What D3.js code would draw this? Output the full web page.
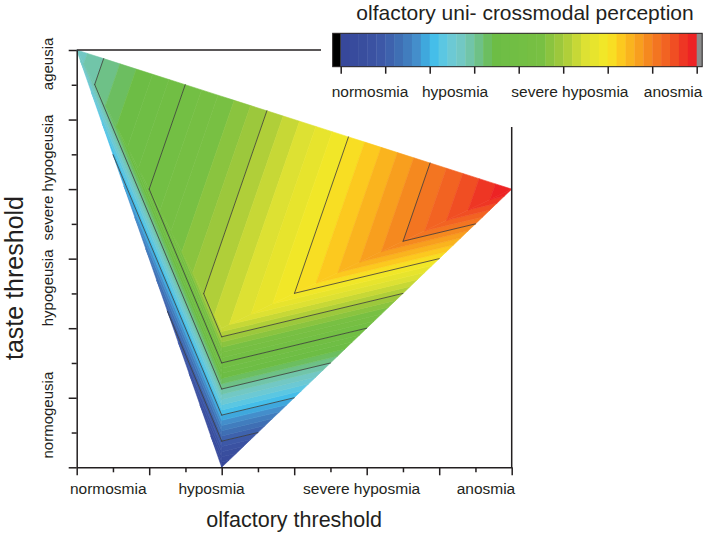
<!DOCTYPE html>
<html><head><meta charset="utf-8">
<script src="https://cdn.jsdelivr.net/npm/d3@7"></script>
<style>
body{margin:0;background:#fff}
svg text{font-family:"Liberation Sans",Arial,Helvetica,sans-serif;fill:#231f20}
</style>
</head><body>
<svg id="chart" width="709" height="535"></svg>
<script>
// ---------------- data ----------------
// measured nodes (olfactory threshold, taste threshold, perception score)
const nodeX = [0, 12, 4, 4];
const nodeY = [12, 8, 0, 4];
const nodeV = [2.67, 8, 0, 5.33];
const contourLevels = [1, 2, 3, 4, 5, 6, 7];
const xTickLabels = ["normosmia", "hyposmia", "severe hyposmia", "anosmia"];
const xTickLabelPos = [0.87, 3.72, 7.86, 11.29];
const yTickLabels = ["normogeusia", "hypogeusia", "severe hypogeusia", "ageusia"];
const yTickLabelPos = [1.5, 5.16, 8.33, 11.6];
const cbLabels = ["normosmia", "hyposmia", "severe hyposmia", "anosmia"];
const cbLabelPos = [0.66, 2.57, 5.15, 7.47];
const colorStops = [0, 0.6, 1, 1.4, 1.7, 1.95, 2.15, 2.4, 2.7, 3.0, 3.2, 3.45, 4.5, 5, 5.5, 6.0, 6.3, 6.65, 7, 7.4, 7.8, 8];
const colorValues = ["#36479a","#3a4f9f","#3e5ba9","#3f75b8","#448ecb","#3eaee1","#47c3ec","#69cadc","#72c8c4","#70c39c","#6cbf72","#6cbd45","#78c043","#a5ca3a","#dde133","#f6e925","#fcc91f","#f9a51e","#f47e20","#f15a22","#ed2a24","#ed1c24"];
const bandStep = 0.2;
const vMin = 0, vMax = 8;

// ---------------- setup ----------------
const svg = d3.select("#chart");
const x = d3.scaleLinear().domain([0, 12]).range([76.7, 511.7]);
const y = d3.scaleLinear().domain([0, 12]).range([467.3, 50]);
const color = d3.scaleLinear().domain(colorStops).range(colorValues).interpolate(d3.interpolateRgb);

const pts = nodeX.map((d, i) => [d, nodeY[i]]);
const delaunay = d3.Delaunay.from(pts);
const tris = [];
for (let i = 0; i < delaunay.triangles.length; i += 3) {
  tris.push([0,1,2].map(k => {
    const j = delaunay.triangles[i + k];
    return [nodeX[j], nodeY[j], nodeV[j]];
  }));
}

function clip(poly, level, above) {
  const out = [];
  const inside = p => above ? p[2] >= level : p[2] <= level;
  for (let i = 0; i < poly.length; i++) {
    const a = poly[i], b = poly[(i + 1) % poly.length];
    const ia = inside(a), ib = inside(b);
    if (ia) out.push(a);
    if (ia !== ib) {
      const t = (level - a[2]) / (b[2] - a[2]);
      out.push([a[0] + t * (b[0] - a[0]), a[1] + t * (b[1] - a[1]), level]);
    }
  }
  return out;
}

const line = d3.line().x(d => x(d[0])).y(d => y(d[1]));
const gHeat = svg.append("g");
const bands = d3.range(vMin, vMax, bandStep);
bands.forEach(lo => {
  const hi = lo + bandStep;
  const c = color(lo + bandStep / 2);
  tris.forEach(t => {
    let p = clip(t, lo - (lo === vMin ? 1e-6 : 0), true);
    if (p.length < 3) return;
    p = clip(p, hi + (hi >= vMax - 1e-9 ? 1e-6 : 0), false);
    if (p.length < 3) return;
    gHeat.append("path").attr("d", line(p) + "Z")
      .attr("fill", c).attr("stroke", c).attr("stroke-width", 0.6).attr("stroke-linejoin", "round");
  });
});

// contour lines
const gCont = svg.append("g");
contourLevels.forEach(k => {
  tris.forEach(t => {
    const seg = [];
    for (let i = 0; i < 3; i++) {
      const a = t[i], b = t[(i + 1) % 3];
      if ((a[2] - k) * (b[2] - k) < 0) {
        const s = (k - a[2]) / (b[2] - a[2]);
        seg.push([a[0] + s * (b[0] - a[0]), a[1] + s * (b[1] - a[1])]);
      }
    }
    if (seg.length === 2) {
      gCont.append("path").attr("d", line(seg)).attr("fill", "none")
        .attr("stroke", "#3a3a3a").attr("stroke-width", 0.8).attr("stroke-linecap", "round");
    }
  });
});

// ---------------- axes ----------------
const axStroke = "#231f20";
function styleAxis(g) {
  g.selectAll("path,line").attr("stroke", axStroke).attr("stroke-width", 1.5);
  g.selectAll("text").remove();
}
svg.append("g").attr("transform", `translate(0,${y(0)})`)
  .call(d3.axisBottom(x).tickValues(d3.range(0, 13, 2)).tickSize(8).tickSizeOuter(0).tickFormat(""))
  .call(styleAxis);
svg.append("g").attr("transform", `translate(0,${y(0)})`)
  .call(d3.axisBottom(x).tickValues(d3.range(1, 12, 2)).tickSize(5).tickSizeOuter(0).tickFormat(""))
  .call(g => g.select(".domain").remove()).call(styleAxis);
svg.append("g").attr("transform", `translate(${x(0)},0)`)
  .call(d3.axisLeft(y).tickValues(d3.range(0, 13, 2)).tickSize(8).tickSizeOuter(0).tickFormat(""))
  .call(styleAxis);
svg.append("g").attr("transform", `translate(${x(0)},0)`)
  .call(d3.axisLeft(y).tickValues(d3.range(1, 12, 2)).tickSize(5).tickSizeOuter(0).tickFormat(""))
  .call(g => g.select(".domain").remove()).call(styleAxis);

// frame (top and right, partly hidden behind legend)
svg.append("line").attr("x1", x(0)).attr("x2", 321).attr("y1", y(12)).attr("y2", y(12))
  .attr("stroke", axStroke).attr("stroke-width", 1.5);
svg.append("line").attr("x1", x(12)).attr("x2", x(12)).attr("y1", 127).attr("y2", y(0))
  .attr("stroke", axStroke).attr("stroke-width", 1.5);

// tick labels
svg.append("g").selectAll("text").data(xTickLabels).join("text")
  .attr("x", (d, i) => x(xTickLabelPos[i])).attr("y", 493.5)
  .attr("text-anchor", "middle").attr("font-size", 15.5).text(d => d);
svg.append("g").selectAll("text").data(yTickLabels).join("text")
  .attr("transform", (d, i) => `translate(53,${y(yTickLabelPos[i])}) rotate(-90)`)
  .attr("text-anchor", "middle").attr("font-size", 15).text(d => d);

// axis titles
svg.append("text").attr("x", (x(0) + x(12)) / 2).attr("y", 527)
  .attr("text-anchor", "middle").attr("font-size", 21.5).text("olfactory threshold");
svg.append("text").attr("transform", "translate(23,278) rotate(-90)")
  .attr("text-anchor", "middle").attr("font-size", 25).text("taste threshold");

// ---------------- colour bar ----------------
const cb = d3.scaleLinear().domain([vMin, vMax]).range([340.7, 696.7]);
const cbTop = 33.3, cbH = 33.4;
const gCb = svg.append("g");
gCb.selectAll("rect.band").data(bands).join("rect").attr("class", "band")
  .attr("x", d => cb(d)).attr("width", d => cb(d + bandStep) - cb(d) + 0.4)
  .attr("y", cbTop).attr("height", cbH).attr("fill", d => color(d + bandStep / 2));
gCb.append("rect").attr("x", 332.7).attr("y", cbTop).attr("width", cb(vMin) - 332.7).attr("height", cbH).attr("fill", "#000");
gCb.append("rect").attr("x", cb(vMax)).attr("y", cbTop).attr("width", 5.5).attr("height", cbH).attr("fill", "#8c8c8c");
gCb.append("rect").attr("x", 332.7).attr("y", cbTop).attr("width", cb(vMax) + 5.5 - 332.7).attr("height", cbH)
  .attr("fill", "none").attr("stroke", "#231f20").attr("stroke-width", 1);
gCb.append("g").attr("transform", `translate(0,${cbTop + cbH})`)
  .call(d3.axisBottom(cb).ticks(8).tickSize(7).tickSizeOuter(0).tickFormat(""))
  .call(g => g.select(".domain").remove())
  .call(g => g.selectAll("line").attr("stroke", axStroke).attr("stroke-width", 1.5));
gCb.append("g").selectAll("text").data(cbLabels).join("text")
  .attr("x", (d, i) => cb(cbLabelPos[i])).attr("y", 96.7)
  .attr("text-anchor", "middle").attr("font-size", 15.5).text(d => d);
gCb.append("text").attr("x", 525).attr("y", 19.5).attr("text-anchor", "middle")
  .attr("font-size", 21).text("olfactory uni- crossmodal perception");
</script>
</body></html>
